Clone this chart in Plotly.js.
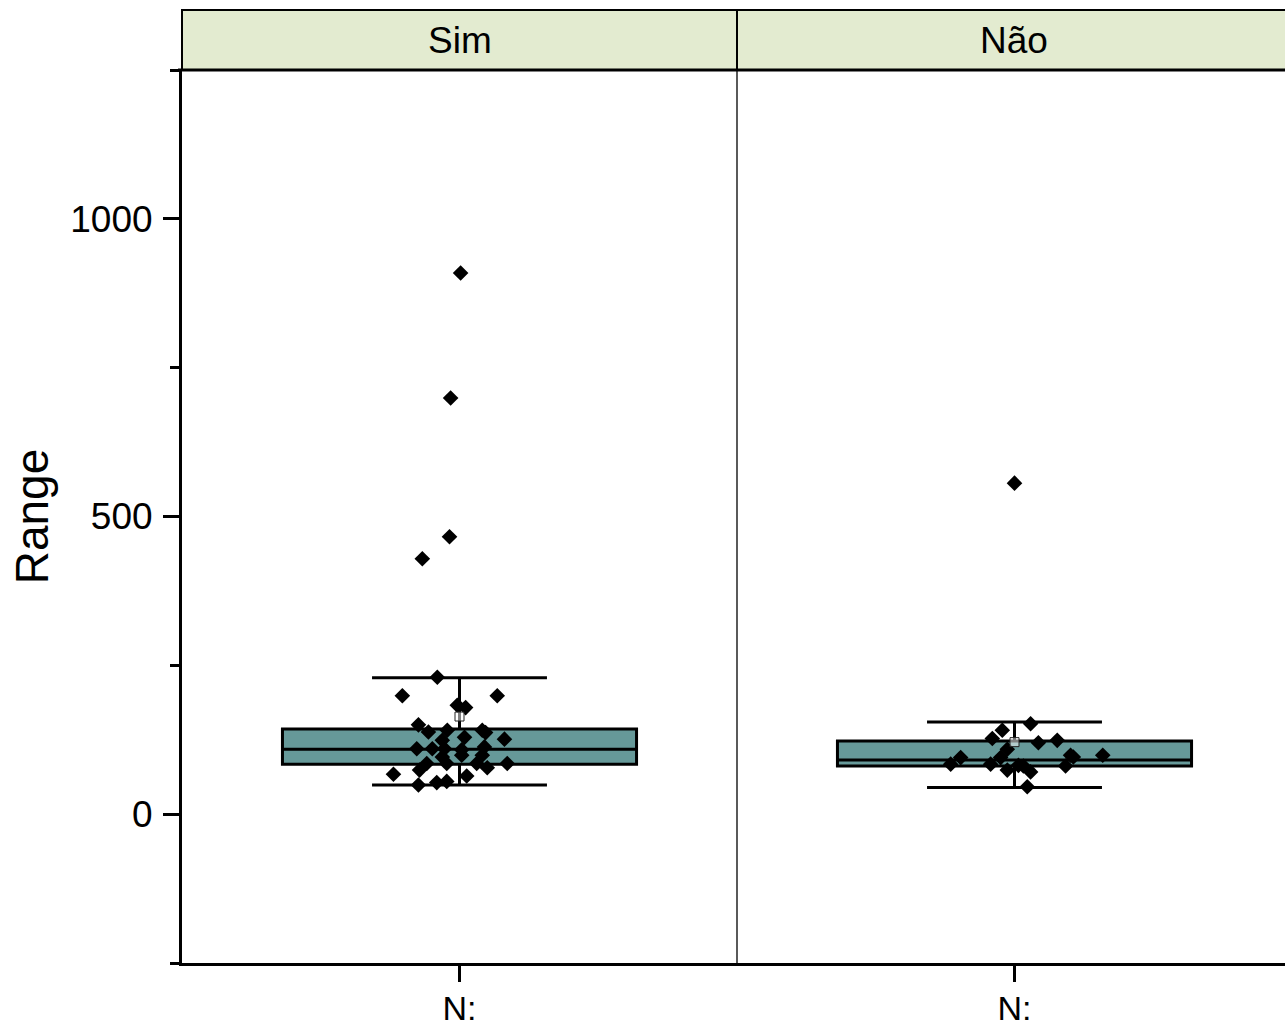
<!DOCTYPE html>
<html>
<head>
<meta charset="utf-8">
<script src="https://cdn.plot.ly/plotly-3.0.1.min.js"></script>
<style>html,body{margin:0;padding:0;background:#fff;}</style>
</head>
<body>
<div id="chart" style="width:1285px;height:1031px;"></div>
<script>
// ---- data ----
const categories = ['Sim', 'Não'];
const tickLabel = 'N:';
const simValues = [230, 199, 199, 183, 179, 150, 138, 141, 141, 137, 124, 129, 126, 110, 110, 110, 108, 113, 96, 99, 99, 85, 85, 85, 78, 85, 74, 67, 64, 49, 53, 55, 909, 699, 466, 429];
const simJitter = [-0.040, -0.103, 0.068, -0.004, 0.011, -0.074, -0.056, -0.022, 0.041, 0.047, -0.031, 0.009, 0.081, -0.077, -0.049, -0.027, 0.004, 0.045, -0.031, 0.004, 0.041, -0.059, -0.023, 0.031, 0.050, 0.086, -0.072, -0.119, 0.013, -0.074, -0.041, -0.023, 0.002, -0.016, -0.018, -0.067];
const naoValues = [152, 141, 127, 109, 120, 124, 95, 84, 84, 95, 74, 82, 81, 71, 46, 81, 99, 96, 99, 556];
const naoJitter = [0.029, -0.022, -0.040, -0.013, 0.043, 0.077, -0.097, -0.115, -0.043, -0.025, -0.013, 0.007, 0.016, 0.029, 0.023, 0.092, 0.101, 0.106, 0.159, 0.000];
const q1 = [84, 81];
const medians = [109, 91];
const q3 = [143, 123];
const lowerWhisker = [49, 45];
const upperWhisker = [229, 155];
const means = [164, 121];

// ---- layout constants ----
const FONT = 'Liberation Sans, Arial, sans-serif';
const split = 555 / 1103;
const stripH = 60 / 893;
const boxFill = '#669999';

const groups = [
  {vals: simValues, jit: simJitter},
  {vals: naoValues, jit: naoJitter}
];

const traces = [];
categories.forEach((cat, i) => {
  const xa = i === 0 ? 'x' : 'x2';
  const ya = i === 0 ? 'y' : 'y2';
  traces.push({
    type: 'box', x: [0], xaxis: xa, yaxis: ya,
    q1: [q1[i]], median: [medians[i]], q3: [q3[i]],
    lowerfence: [lowerWhisker[i]], upperfence: [upperWhisker[i]],
    width: 0.638, whiskerwidth: 0.494,
    boxpoints: false,
    fillcolor: boxFill,
    line: {color: '#000000', width: 3},
    hoverinfo: 'skip', showlegend: false, name: cat
  });
  traces.push({
    type: 'scatter', mode: 'markers', xaxis: xa, yaxis: ya,
    x: groups[i].jit, y: groups[i].vals,
    marker: {symbol: 'diamond', size: 12, color: '#000000', line: {width: 0}},
    showlegend: false, hoverinfo: 'y', name: cat
  });
  traces.push({
    type: 'scatter', mode: 'markers', xaxis: xa, yaxis: ya,
    x: [0], y: [means[i]],
    marker: {symbol: 'square', size: 9, color: 'rgba(255,255,255,0.5)', line: {width: 1, color: '#222222'}},
    showlegend: false, hoverinfo: 'y', name: cat + ' mean'
  });
});

const xBase = {
  tickmode: 'array', tickvals: [0], ticktext: [tickLabel],
  ticks: 'outside', ticklen: 16, tickwidth: 3, tickcolor: '#000',
  ticklabelstandoff: -3,
  showline: true, linewidth: 3, linecolor: '#000',
  showgrid: false, zeroline: false, fixedrange: true,
  tickfont: {family: FONT, size: 34, color: '#000'}
};
const yRange = [-250, 1250];

const layout = {
  width: 1285, height: 1031,
  margin: {l: 182, r: 0, t: 70, b: 68},
  paper_bgcolor: '#ffffff', plot_bgcolor: '#ffffff',
  font: {family: FONT, color: '#000'},
  showlegend: false,
  xaxis: Object.assign({}, xBase, {domain: [0, split], range: [-0.5, 0.5], anchor: 'y'}),
  xaxis2: Object.assign({}, xBase, {domain: [split, 1], range: [-0.5, 0.5 - 7 / 555], anchor: 'y2'}),
  yaxis: {
    range: yRange, tickmode: 'linear', tick0: 0, dtick: 500,
    ticks: 'outside', ticklen: 16, tickwidth: 3, tickcolor: '#000',
    ticklabelstandoff: 3,
    minor: {dtick: 250, tick0: 0, ticks: 'outside', ticklen: 9, tickwidth: 3, tickcolor: '#000'},
    showline: true, linewidth: 3, linecolor: '#000',
    showgrid: false, zeroline: false, fixedrange: true,
    tickfont: {family: FONT, size: 37, color: '#000'},
    title: {text: 'Range', font: {family: FONT, size: 46, color: '#000'}, standoff: 8}
  },
  yaxis2: {
    range: yRange, anchor: 'x2', matches: 'y',
    showticklabels: false, ticks: '', showline: false,
    showgrid: false, zeroline: false, fixedrange: true
  },
  shapes: [
    // strip backgrounds
    {type: 'rect', xref: 'paper', yref: 'paper', x0: 0, x1: split, y0: 1, y1: 1 + stripH,
     fillcolor: '#E3EBD0', line: {color: '#000', width: 2}, layer: 'below'},
    {type: 'rect', xref: 'paper', yref: 'paper', x0: split, x1: 1.01, y0: 1, y1: 1 + stripH,
     fillcolor: '#E3EBD0', line: {color: '#000', width: 2}, layer: 'below'},
    // strip bottom / plot top border
    {type: 'line', xref: 'paper', yref: 'paper', x0: -4 / 1103, x1: 1, y0: 1, y1: 1,
     line: {color: '#000', width: 3}},
    // panel divider
    {type: 'line', xref: 'paper', yref: 'paper', x0: split, x1: split, y0: 0, y1: 1,
     line: {color: '#000', width: 1.3}}
  ],
  annotations: categories.map((cat, i) => ({
    text: cat, xref: 'paper', yref: 'paper',
    x: i === 0 ? split / 2 : split + (1 - split) * 0.5055, y: 1 + stripH / 2,
    xanchor: 'center', yanchor: 'middle', showarrow: false,
    font: {family: FONT, size: 37, color: '#000'}
  }))
};

Plotly.newPlot('chart', traces, layout, {displayModeBar: false, staticPlot: true});
</script>
</body>
</html>
